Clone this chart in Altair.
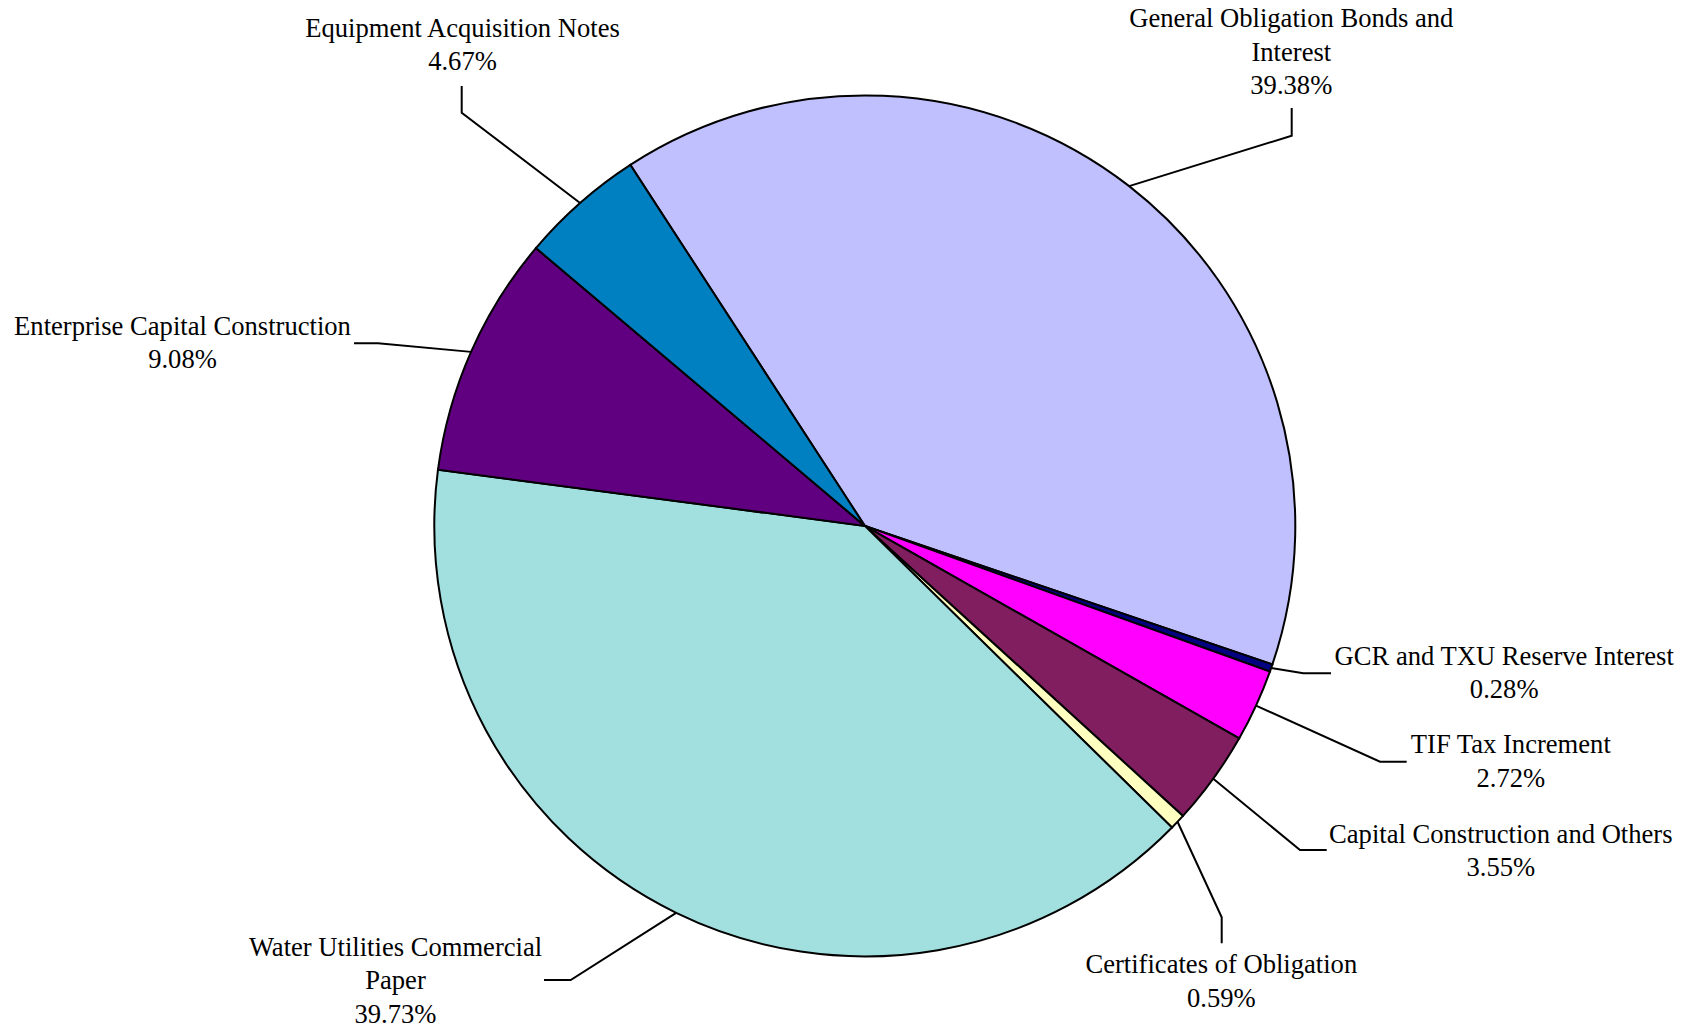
import math
import altair as alt
import pandas as pd

# ---------------- data ----------------
categories = [
    "General Obligation Bonds and Interest",
    "GCR and TXU Reserve Interest",
    "TIF Tax Increment",
    "Capital Construction and Others",
    "Certificates of Obligation",
    "Water Utilities Commercial Paper",
    "Enterprise Capital Construction",
    "Equipment Acquisition Notes",
]
shares = [39.38, 0.28, 2.72, 3.55, 0.59, 39.73, 9.08, 4.67]
label_lines = [
    ["General Obligation Bonds and", "Interest"],
    ["GCR and TXU Reserve Interest"],
    ["TIF Tax Increment"],
    ["Capital Construction and Others"],
    ["Certificates of Obligation"],
    ["Water Utilities Commercial", "Paper"],
    ["Enterprise Capital Construction"],
    ["Equipment Acquisition Notes"],
]
colors = ["#C0C0FF", "#000080", "#FF00FF", "#801E60", "#FFFFC0", "#A2E0E0", "#600080", "#0080C0"]

# ---------------- layout ----------------
W, H = 1695, 1027
CX, CY, R = 864.8, 525.9, 430.5
START_DEG = -33.0
FONT_SIZE = 26.6
LINE_H = 33.4
# label placement (pixels): elbow point, leader end point, text centre x, first baseline y
label_layout = [
    ((1291.7, 135.7), (1291.7, 108.0), 1291.3, 27.3),
    ((1303.3, 673.3), (1331.0, 673.3), 1504.2, 665.0),
    ((1380.0, 761.7), (1406.7, 761.7), 1510.8, 753.3),
    ((1300.0, 850.0), (1326.7, 850.0), 1500.8, 842.7),
    ((1221.7, 917.3), (1221.7, 943.3), 1221.3, 973.3),
    ((570.7, 980.0), (544.0, 980.0), 395.5, 956.0),
    ((378.0, 343.3), (354.0, 343.3), 182.5, 335.0),
    ((461.7, 112.7), (461.7, 86.0), 462.5, 37.0),
]

total = sum(shares)
start = math.radians(START_DEG)

pie_df = pd.DataFrame({"category": categories, "share": shares, "idx": list(range(len(shares)))})

lead_rows, text_rows = [], []
cum = 0.0
for i, (cat, v) in enumerate(zip(categories, shares)):
    mid = start + (cum + v / 2) / total * 2 * math.pi
    cum += v
    ex, ey = CX + R * math.sin(mid), CY - R * math.cos(mid)
    (bx, by), (tx, ty), lx, ly = label_layout[i]
    for step, (px, py) in enumerate([(ex, ey), (bx, by), (tx, ty)]):
        lead_rows.append({"category": cat, "step": step, "px": px, "py": py})
    text_rows.append({
        "category": cat,
        "label": "\n".join(label_lines[i] + [f"{v:.2f}%"]),
        "px": lx,
        "py": ly,
    })

lead_df = pd.DataFrame(lead_rows)
text_df = pd.DataFrame(text_rows)

pie = alt.Chart(pie_df).mark_arc(outerRadius=R, stroke="black", strokeWidth=2).encode(
    theta=alt.Theta("share:Q", stack=True,
                    scale=alt.Scale(range=[start, start + 2 * math.pi])),
    color=alt.Color("category:N", scale=alt.Scale(domain=categories, range=colors), legend=None),
    order=alt.Order("idx:Q"),
    x=alt.value(CX),
    y=alt.value(CY),
)

leaders = alt.Chart(lead_df).mark_line(color="black", strokeWidth=2, strokeJoin="miter").encode(
    x=alt.X("px:Q", scale=None, axis=None),
    y=alt.Y("py:Q", scale=None, axis=None),
    detail="category:N",
    order=alt.Order("step:Q"),
)

labels = alt.Chart(text_df).mark_text(
    font="Liberation Serif", fontSize=FONT_SIZE, lineBreak="\n", lineHeight=LINE_H,
    align="center", baseline="alphabetic", color="black",
).encode(
    x=alt.X("px:Q", scale=None, axis=None),
    y=alt.Y("py:Q", scale=None, axis=None),
    text="label:N",
)

chart = alt.layer(pie, leaders, labels).properties(
    width=W, height=H,
    autosize=alt.AutoSizeParams(type="none"),
    padding=0,
    background="white",
).configure_view(stroke=None)

chart.save("out.html", embed_options={"renderer": "svg", "actions": False})
